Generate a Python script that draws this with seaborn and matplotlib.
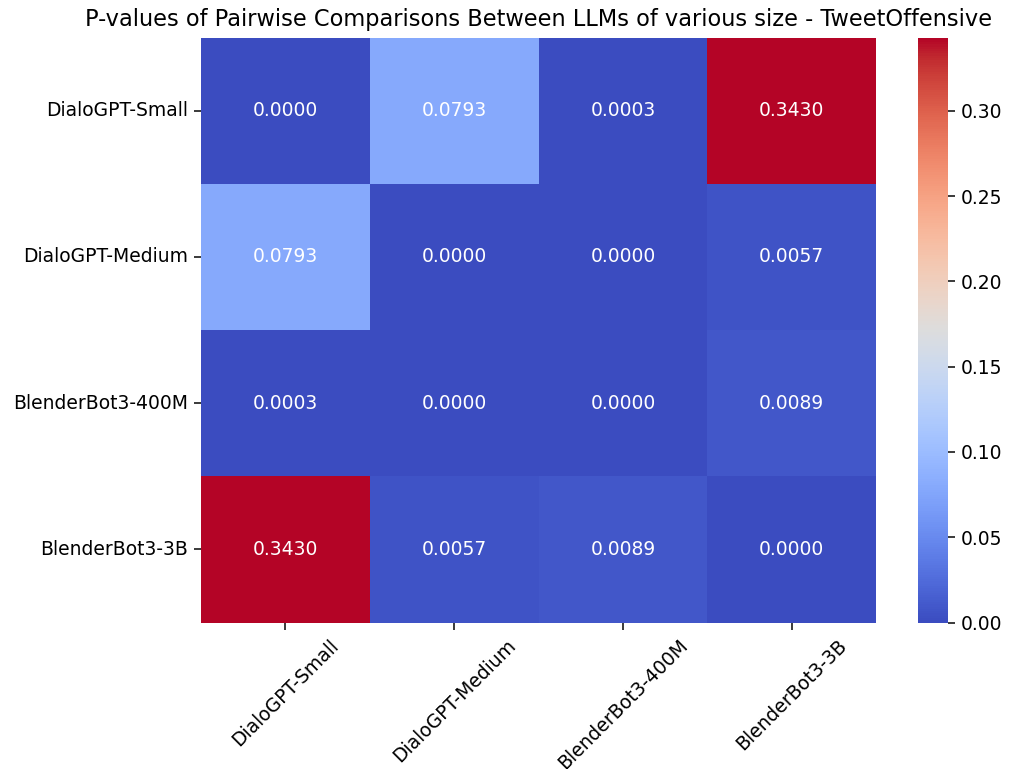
import numpy as np
import pandas as pd
import matplotlib
matplotlib.use("Agg")
import matplotlib.pyplot as plt
import seaborn as sns

models = ["DialoGPT-Small", "DialoGPT-Medium", "BlenderBot3-400M", "BlenderBot3-3B"]
row_small = [0.0000, 0.0793, 0.0003, 0.3430]
row_medium = [0.0793, 0.0000, 0.0000, 0.0057]
row_400m = [0.0003, 0.0000, 0.0000, 0.0089]
row_3b = [0.3430, 0.0057, 0.0089, 0.0000]

pvals = pd.DataFrame([row_small, row_medium, row_400m, row_3b],
                     index=models, columns=models)

W, H = 1016, 769
DPI = 135
fig = plt.figure(figsize=(W / DPI, H / DPI), dpi=DPI)
ax = fig.add_axes([201 / W, (H - 622.5) / H, 675 / W, 585 / H])
cax = fig.add_axes([918 / W, (H - 622.5) / H, 30 / W, 585 / H])

sns.heatmap(pvals, annot=True, fmt=".4f", cmap="coolwarm", ax=ax, cbar_ax=cax)
ax.set_title("P-values of Pairwise Comparisons Between LLMs of various size - TweetOffensive")
plt.setp(ax.get_xticklabels(), rotation=45)
plt.setp(ax.get_yticklabels(), rotation=0)
fig.savefig("out.png", dpi=DPI)
